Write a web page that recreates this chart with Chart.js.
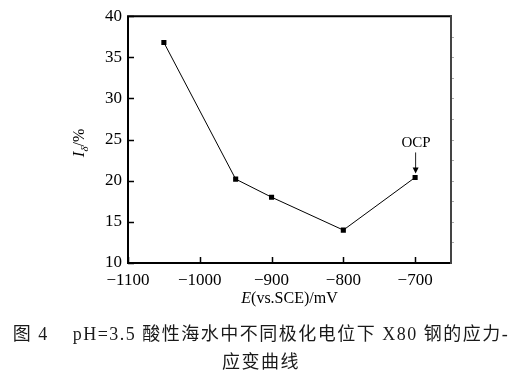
<!DOCTYPE html>
<html>
<head>
<meta charset="utf-8">
<script src="https://cdn.jsdelivr.net/npm/chart.js@4/dist/chart.umd.min.js"></script>
<style>
  html, body { margin: 0; padding: 0; background: #fff; }
  #wrap { position: relative; width: 522px; height: 383px; overflow: hidden; }
  #c { position: absolute; left: 0; top: 0; }
  .cap { position: absolute; left: 0; width: 522px; text-align: center; white-space: pre;
         font-family: "Liberation Serif", "Noto Sans CJK SC", serif; font-size: 18px; letter-spacing: 1.5px; color: #1a1a1a; line-height: 26px; }
</style>
</head>
<body>
<div id="wrap">
  <canvas id="c" width="522" height="383"></canvas>
  <div class="cap" id="cap1" style="top:321px;">图 4    pH=3.5 酸性海水中不同极化电位下 X80 钢的应力-</div>
  <div class="cap" id="cap2" style="top:349px;">应变曲线</div>
</div>
<script>
const xValues = [-1050, -950, -900, -800, -700];
const yValues = [36.8, 20.2, 18.0, 14.0, 20.4];
const xTicks = [-1100, -1000, -900, -800, -700];
const yTicks = [10, 15, 20, 25, 30, 35, 40];
const annotationText = 'OCP';
const annotationIndex = 4;

const points = xValues.map((x, i) => ({ x: x, y: yValues[i] }));
const serif = '"Liberation Serif", "Times New Roman", serif';
const minus = v => String(v).replace('-', '\u2212');

const framePlugin = {
  id: 'frame',
  afterDraw(chart) {
    const ctx = chart.ctx;
    const a = chart.chartArea;
    const xs = chart.scales.x, ys = chart.scales.y;
    ctx.save();
    ctx.lineCap = 'square';
    ctx.strokeStyle = '#000';
    ctx.lineWidth = 2;
    ctx.beginPath();
    ctx.moveTo(a.left, a.top); ctx.lineTo(a.left, a.bottom); ctx.lineTo(a.right, a.bottom);
    ctx.moveTo(a.left, a.top); ctx.lineTo(a.right, a.top);
    ctx.stroke();
    ctx.strokeStyle = '#444';
    ctx.beginPath();
    ctx.moveTo(a.right, a.top); ctx.lineTo(a.right, a.bottom);
    ctx.stroke();
    ctx.lineCap = 'butt';
    ctx.strokeStyle = '#000';
    ctx.lineWidth = 1.5;
    ctx.beginPath();
    yTicks.forEach(v => {
      const y = Math.round(ys.getPixelForValue(v)) + 0.5;
      ctx.moveTo(a.left, y); ctx.lineTo(a.left + 6, y);
    });
    xTicks.forEach(v => {
      const x = Math.round(xs.getPixelForValue(v)) + 0.5;
      ctx.moveTo(x, a.bottom); ctx.lineTo(x, a.bottom - 6);
    });
    ctx.stroke();
    ctx.strokeStyle = '#aaa';
    ctx.lineWidth = 1;
    ctx.beginPath();
    for (let v = 12.5; v < 40; v += 2.5) {
      const y = Math.round(ys.getPixelForValue(v)) + 0.5;
      ctx.moveTo(a.right + 1, y); ctx.lineTo(a.right + 3, y);
    }
    ctx.stroke();

    ctx.fillStyle = '#000';
    ctx.textBaseline = 'alphabetic';
    const f1 = 'italic 16px ' + serif, f2 = '16px ' + serif;
    ctx.font = f1; const wE = ctx.measureText('E').width;
    ctx.font = f2; const wR = ctx.measureText('(vs.SCE)/mV').width;
    let sx = (a.left + a.right) / 2 - (wE + wR) / 2;
    ctx.font = f1; ctx.fillText('E', sx, 303);
    ctx.font = f2; ctx.fillText('(vs.SCE)/mV', sx + wE, 303);

    ctx.save();
    ctx.translate(84, 143);
    ctx.rotate(-Math.PI / 2);
    const g1 = 'italic 17px ' + serif, g2 = 'italic 11px ' + serif, g3 = '16px ' + serif;
    ctx.font = g1; const wI = ctx.measureText('I').width;
    ctx.font = g2; const wD = ctx.measureText('\u03b4').width;
    ctx.font = g3; const wP = ctx.measureText('/%').width;
    let tx = -(wI + wD + wP) / 2;
    ctx.font = g1; ctx.fillText('I', tx, 0);
    ctx.font = g2; ctx.fillText('\u03b4', tx + wI, 4);
    ctx.font = g3; ctx.fillText('/%', tx + wI + wD, 0);
    ctx.restore();

    const px = xs.getPixelForValue(xValues[annotationIndex]);
    const py = ys.getPixelForValue(yValues[annotationIndex]);
    ctx.font = '15px ' + serif;
    ctx.textAlign = 'center';
    ctx.fillText(annotationText, px + 1, py - 30);
    ctx.strokeStyle = '#222';
    ctx.lineWidth = 1;
    ctx.beginPath();
    ctx.moveTo(px + 0.5, py - 25); ctx.lineTo(px + 0.5, py - 7);
    ctx.stroke();
    ctx.beginPath();
    ctx.moveTo(px - 2.5, py - 10); ctx.lineTo(px + 3.5, py - 10); ctx.lineTo(px + 0.5, py - 4);
    ctx.closePath(); ctx.fill();
    ctx.restore();
  }
};

new Chart(document.getElementById('c'), {
  type: 'scatter',
  data: {
    datasets: [{
      data: points,
      showLine: true,
      borderColor: '#000',
      borderWidth: 1,
      backgroundColor: '#000',
      pointStyle: 'rect',
      pointRadius: 3.6,
      pointBorderWidth: 0,
      pointBackgroundColor: '#000',
      tension: 0
    }]
  },
  options: {
    responsive: false,
    animation: false,
    devicePixelRatio: 1,
    layout: { padding: { left: 0, right: 71, top: 13, bottom: 0 } },
    plugins: { legend: { display: false }, tooltip: { enabled: false } },
    scales: {
      x: {
        type: 'linear', min: -1100, max: -650,
        afterBuildTicks: s => { s.ticks = xTicks.map(v => ({ value: v })); },
        afterFit: s => { s.height = 120; },
        grid: { display: false, drawTicks: false },
        border: { display: false },
        ticks: { color: '#000', padding: 7, font: { family: serif, size: 17 }, callback: v => minus(v), maxRotation: 0, autoSkip: false }
      },
      y: {
        type: 'linear', min: 10, max: 40,
        afterBuildTicks: s => { s.ticks = yTicks.map(v => ({ value: v })); },
        afterFit: s => { s.width = 128; },
        grid: { display: false, drawTicks: false },
        border: { display: false },
        ticks: { color: '#000', padding: 6, font: { family: serif, size: 17 }, callback: v => minus(v) }
      }
    }
  },
  plugins: [framePlugin]
});
</script>
</body>
</html>
